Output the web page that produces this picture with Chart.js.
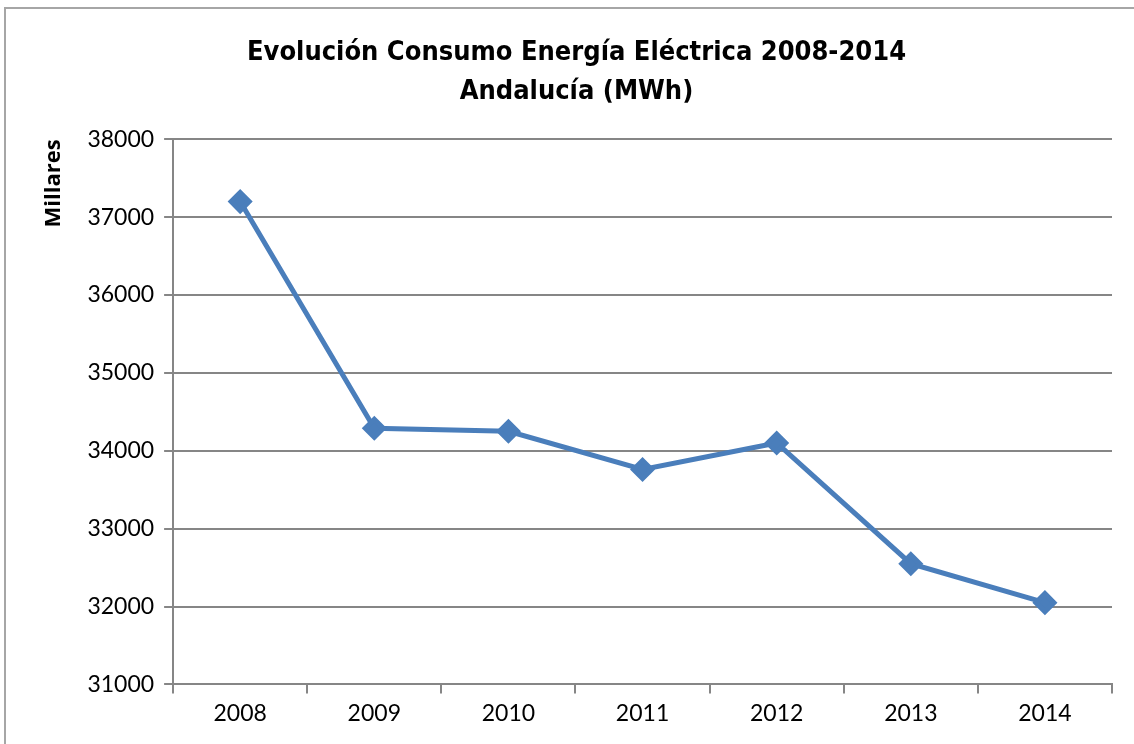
<!DOCTYPE html>
<html>
<head>
<meta charset="utf-8">
<script src="https://cdn.jsdelivr.net/npm/chart.js@4"></script>
<style>
  html, body { margin: 0; padding: 0; background: #fff; overflow: hidden; }
  #frame { position: absolute; left: 4px; top: 7px; width: 1200px; height: 800px; border: 2px solid #a6a6a6; }
  #wrap { position: absolute; left: 0; top: 0; width: 1134px; height: 744px; }
</style>
</head>
<body>
<div id="frame"></div>
<div id="wrap"><canvas id="myChart"></canvas></div>
<script>
// años y consumo (miles de MWh)
const years = ["2008", "2009", "2010", "2011", "2012", "2013", "2014"];
const consumo = [37200, 34290, 34250, 33760, 34100, 32550, 32050];
const titleLines = ["Evolución Consumo Energía Eléctrica 2008-2014", "Andalucía (MWh)"];
const yTitle = "Millares";

const gray = "#868686";
const tickFont = { family: "Lato, 'Open Sans', sans-serif", size: 23 };

const myChart = new Chart("myChart", {
  type: "line",
  data: {
    labels: years,
    datasets: [
      {
        data: consumo,
        borderColor: "#4a7ebb",
        backgroundColor: "#4a7ebb",
        borderWidth: 5,
        pointStyle: "rectRot",
        pointRadius: 9,
        pointHoverRadius: 9,
        fill: false,
        tension: 0,
      },
    ],
  },
  options: {
    responsive: true,
    maintainAspectRatio: false,
    animation: false,
    layout: { padding: { left: 41, right: 22, top: 33, bottom: 11 } },
    plugins: {
      legend: { display: false },
      tooltip: { enabled: false },
      title: {
        display: true,
        text: titleLines,
        color: "#000",
        font: { family: "'DejaVu Sans Condensed', 'DejaVu Sans', sans-serif", size: 27, weight: "bold", lineHeight: 1.45 },
        padding: { top: 0, bottom: 28 },
      },
    },
    scales: {
      x: {
        offset: true,
        grid: { offset: true, drawOnChartArea: false, drawTicks: true, tickLength: 9, color: gray, lineWidth: 2 },
        border: { color: gray, width: 2 },
        ticks: { color: "#000", font: tickFont, padding: 6 },
      },
      y: {
        min: 31000,
        max: 38000,
        ticks: {
          stepSize: 1000,
          color: "#000",
          font: tickFont,
          padding: 10,
          callback: (v) => String(v),
        },
        grid: { color: gray, lineWidth: 2, tickLength: 9 },
        border: { color: gray, width: 2 },
        title: {
          display: true,
          text: yTitle,
          align: "end",
          color: "#000",
          font: { family: "'Open Sans', Roboto, sans-serif", size: 22, weight: "bold" },
          padding: { top: 0, bottom: 10 },
        },
      },
    },
  },
});
</script>
</body>
</html>
